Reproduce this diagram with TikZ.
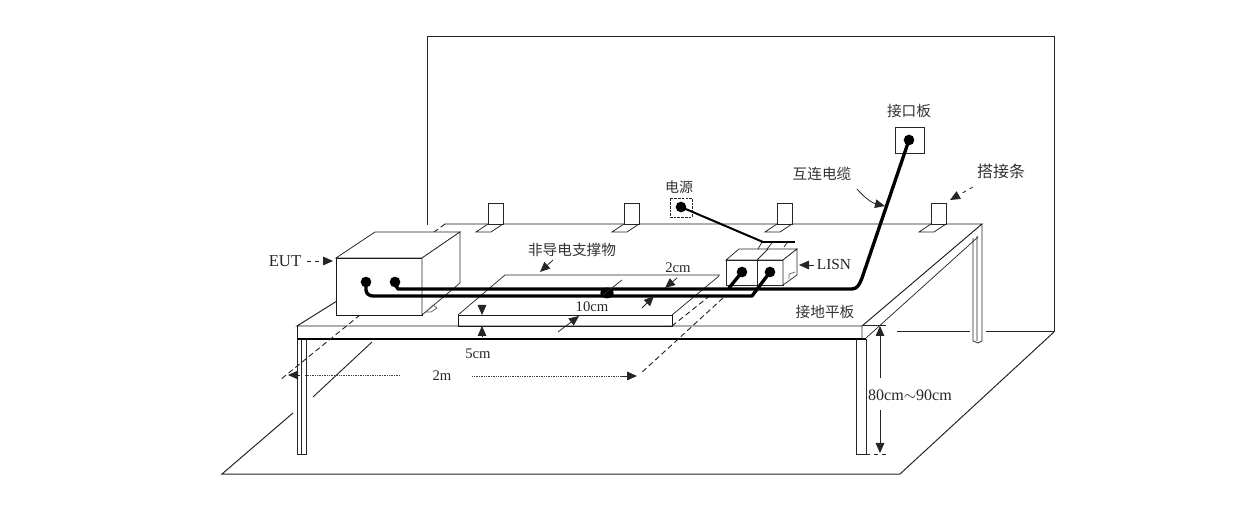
\documentclass[tikz,border=0pt]{standalone}
\usepackage{fontspec}
\setmainfont{Liberation Serif}
\newfontfamily\cjk{Noto Sans CJK SC}
\usetikzlibrary{arrows.meta}
\begin{document}
\begin{tikzpicture}[x=0.75pt,y=-0.75pt,
  thinl/.style={line width=0.55pt,draw=black!85},
  medl/.style={line width=0.7pt,draw=black!90},
  cable/.style={line width=2.5pt,line cap=round,line join=round,draw=black},
  dashl/.style={line width=0.7pt,dash pattern=on 4pt off 2.5pt,draw=black!85},
  dotl/.style={line width=0.6pt,dash pattern=on 1pt off 0.8pt,draw=black!75},
  tip/.style={line width=0.6pt,draw=black!85,-{Triangle[length=7.5pt,width=6.5pt]}},
  plug/.style={circle,fill=black,inner sep=0pt,minimum size=8pt},
  cn/.style={font=\cjk\fontsize{11}{12}\selectfont,text=black!80,inner sep=0pt},
  lat/.style={font=\fontsize{11}{12}\selectfont,text=black!85,inner sep=0pt},
  strapbox/.style={thinl,fill=white}]
\useasboundingbox (0,0) rectangle (1245,530);
% wall
\draw[thinl,line width=0.75pt] (427,225) -- (427,37) -- (1054,37) -- (1054,332);
\draw[thinl,line width=0.75pt] (897,332) -- (970,332) (986,332) -- (1054,332);
% floor
\draw[thinl,line width=0.75pt] (293,413) -- (222,474) -- (900,474) -- (1054,332);
% table top
\draw[medl] (445,224) -- (982,224) -- (862,326) -- (297,326) -- (337,301);
\draw[dashl] (445,224) -- (430,235);
\draw[medl] (297,326) -- (297,339);
\draw[line width=1pt] (297,339) -- (866,339);
\draw[thinl] (862,326) -- (862,339) (866,338) -- (978,237) (982,224) -- (982,236);
% legs
\draw[thinl] (297,339) -- (297,454) -- (306,454) -- (306,339) (301,339) -- (301,454);
\draw[thinl] (856,339) -- (856,454) -- (866,454) -- (866,339);
\draw[thinl] (973,238) -- (973,341) -- (978,343) -- (982,341) -- (982,236) (977,236) -- (977,341);
% straps
\foreach \sx/\nm in {488/a,624/b,777/c,931/d}{
  \draw[strapbox] (\sx,203) rectangle ++(15,21);
  \draw[thinl] (\sx,224) -- ++(-12,8) -- ++(15,0) -- ++(12,-8);
}
% dashed / solid perspective
\draw[dashl] (360,315) -- (280,380);
\draw[thinl,line width=0.7pt] (372,342) -- (313,397);
\draw[dashl] (723,298) -- (640,374);
% support
\draw[medl] (458,326) -- (458,315) -- (672,315) -- (672,326) -- (458,326);
\draw[thinl] (458,315) -- (505,275) -- (720,275) (672,315) -- (719,276);
\draw[dashl] (672,326) -- (712,294);
% EUT
\draw[medl,fill=white] (336,258) -- (422,258) -- (422,315) -- (336,315) -- cycle;
\draw[thinl,fill=white] (336,258) -- (375,232) -- (460,232) -- (422,258) -- cycle;
\draw[thinl,fill=white] (422,258) -- (460,232) -- (460,283) -- (422,315) -- cycle;
\draw[thinl,draw=black!60] (426,312) -- (433,305) -- (437,308) -- (431,312) -- cycle;
% LISN
\draw[thinl,fill=white] (726,260) rectangle (757,285);
\draw[thinl,fill=white] (757,260) rectangle (783,285);
\draw[thinl,fill=white] (726,260) -- (739,249) -- (797,249) -- (783,260) -- cycle;
\draw[thinl] (757,260) -- (768,249);
\draw[thinl,fill=white] (783,260) -- (797,249) -- (797,275) -- (783,285) -- cycle;
\draw[thinl,draw=black!60] (789,279) -- (789,274) -- (795,272);
\draw[line width=1.3pt] (761,242) -- (795,242);
\draw[thinl] (762,242) -- (758,249) (772,243) -- (767,249) (787,243) -- (784,247);
% panels
\node[draw,thinl,minimum width=29pt*0.75,minimum height=26pt*0.75,inner sep=0pt] (panel) at (909.5,140) {};
\node[draw,thinl,dash pattern=on 2pt off 0.8pt,minimum width=22pt*0.75,minimum height=19pt*0.75,inner sep=0pt] (power) at (681,207.5) {};
% plugs
\node[plug] (p1) at (366,282) {};
\node[plug] (p2) at (395,282) {};
\node[plug] (p3) at (742,272) {};
\node[plug] (p4) at (770,272) {};
\node[plug] (p5) at (909,140) {};
\node[plug] (p6) at (681,207) {};
\coordinate (barL) at (763,242);
% cables
\draw[cable] (p2.center) -- (396,286) -- (398,289) -- (852,289) to[out=0,in=248] (862,278) -- (p5.center);
\draw[cable] (p1.center) -- (366,290) to[out=-90,in=180] (373,296) -- (752,296) -- (p4.center);
\draw[cable] (p3.center) -- (729,288);
\draw[line width=1.5pt] (p6.center) -- (barL);
\fill (607,293) ellipse (5pt and 4pt);
% dimension arrows
\coordinate (d1) at (482,305); \coordinate (d1t) at (482,315);
\draw[tip] (d1) -- (d1t);
\coordinate (d2) at (482,337); \coordinate (d2t) at (482,326);
\draw[tip] (d2) -- (d2t);
\node[lat] (t5cm) at (478,354) {5cm};
\node[lat] (t2m) at (442,376) {2m};
\coordinate (e1) at (400,375); \coordinate (e2) at (288,375);
\draw[dotl] (e1) -- (305,375);
\draw[tip] (300,375) -- (e2);
\draw[dotl] (t2m.east) ++(20,0) -- (622,376);
\coordinate (e3) at (622,376); \coordinate (e4) at (637,376);
\draw[tip] (e3) -- (e4);
% 2 cm, 10 cm
\node[lat] (t2cm) at (678,268) {2cm};
\draw[tip] (677,278) -- (665,288);
\draw[tip] (642,308) -- (654,296);
\draw[thinl] (622,280) -- (603,295);
\node[lat] (t10) at (592,307) {10cm};
\draw[tip] (558,332) -- (579,316);
% labels
\node[lat,font=\fontsize{12.5}{13}\selectfont] (teut) at (285,261) {EUT};
\draw[tip,dashed] (teut.east) ++(6,0) -- (333,261);
\node[cn] (tsup) at (572,250) {非导电支撑物};
\draw[tip] (553,260) -- (540,272);
\node[lat,font=\fontsize{11.5}{13}\selectfont] (tlisn) at (834,265) {LISN};
\draw[tip] (814,265) -- (799,265);
\node[cn] (tgnd) at (825,312) {接地平板};
\node[cn,font=\cjk\fontsize{10.5}{11}\selectfont] (tpower) at (679,187) {电源};
\node[cn] (tpanel) at (909,111) {接口板};
\node[cn] (tcab) at (822,174) {互连电缆};
\draw[tip] (857,189) to[bend right=18] (885,206);
\node[cn,font=\cjk\fontsize{12}{13}\selectfont] (tstrap) at (1001,171) {搭接条};
\draw[tip,dashed] (973,187) -- (950,200);
\node[lat,font=\fontsize{12}{13}\selectfont] (th) at (910,395) {80cm$\sim$90cm};
\coordinate (h1) at (880,378); \coordinate (h2) at (880,326);
\draw[tip] (h1) -- (h2);
\coordinate (h3) at (880,410); \coordinate (h4) at (880,453);
\draw[tip] (h3) -- (h4);
\draw[thinl] (862,325) -- (886,325);
\draw[thinl,dashed] (866,454) -- (886,454);
\end{tikzpicture}
\end{document}
